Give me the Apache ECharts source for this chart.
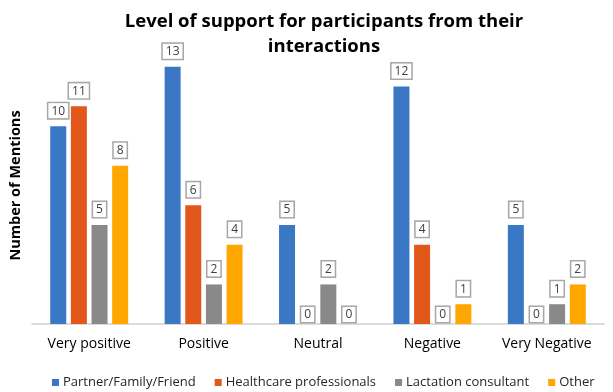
<!DOCTYPE html>
<html><head><meta charset="utf-8">
<script src="https://cdn.jsdelivr.net/npm/echarts@6/dist/echarts.min.js"></script>
<style>html,body{margin:0;padding:0;background:#fff}#c{width:613px;height:392px}</style>
</head><body><div id="c"></div>
<script>
var categories = ['Very positive', 'Positive', 'Neutral', 'Negative', 'Very Negative'];
var seriesNames = ['Partner/Family/Friend', 'Healthcare professionals', 'Lactation consultant', 'Other'];
var partner = [10, 13, 5, 12, 5];
var healthcare = [11, 6, 0, 4, 0];
var lactation = [5, 2, 2, 0, 1];
var other = [8, 4, 0, 1, 2];
var colors = ['#3a78c6', '#e2581a', '#898989', '#ffa600'];

var font = '"Open Sans", "Liberation Sans", sans-serif';
function mk(name, vals, color) {
  return {
    name: name, type: 'bar', barWidth: 16, barGap: '29%',
    itemStyle: { color: color },
    data: vals.map(function (v) {
      return { value: v, label: { distance: v === 0 ? 2 : 8 } };
    }),
    label: {
      show: true, position: 'top', color: '#404040', fontSize: 12, fontFamily: font,
      lineHeight: 12,
      backgroundColor: '#fff', borderColor: '#a6a6a6', borderWidth: 1.5,
      padding: [2, 3, 1, 3]
    }
  };
}
var chart = echarts.init(document.getElementById('c'), null, { renderer: 'canvas' });
chart.setOption({
  animation: false,
  title: {
    text: 'Level of support for participants from their\ninteractions',
    left: 319, top: 4, textAlign: 'center',
    textStyle: { fontFamily: font, fontWeight: 'bold', fontSize: 18.5, color: '#000', lineHeight: 25 }
  },
  legend: {
    top: 371, left: 47, itemWidth: 7, itemHeight: 7, itemGap: 19, icon: 'rect',
    textStyle: { fontFamily: font, fontSize: 13, color: '#262626', padding: [0, 0, 0, -1] },
    data: seriesNames
  },
  grid: { left: 32, right: 9, top: 47, bottom: 68 },
  xAxis: {
    type: 'category', data: categories,
    axisLine: { lineStyle: { color: '#d0d0d0', width: 1.5 } },
    axisTick: { show: false },
    axisLabel: { fontFamily: font, fontSize: 14, color: '#000', margin: 13, interval: 0 }
  },
  yAxis: {
    type: 'value', min: 0, max: 14, interval: 2,
    name: 'Number of Mentions', nameLocation: 'middle', nameGap: 9, nameRotate: 90,
    nameTextStyle: { fontFamily: font, fontWeight: 'bold', fontSize: 14.5, color: '#000' },
    axisLine: { show: false }, axisTick: { show: false }, axisLabel: { show: false },
    splitLine: { show: false }
  },
  series: [
    mk(seriesNames[0], partner, colors[0]),
    mk(seriesNames[1], healthcare, colors[1]),
    mk(seriesNames[2], lactation, colors[2]),
    mk(seriesNames[3], other, colors[3])
  ]
});
</script></body></html>
